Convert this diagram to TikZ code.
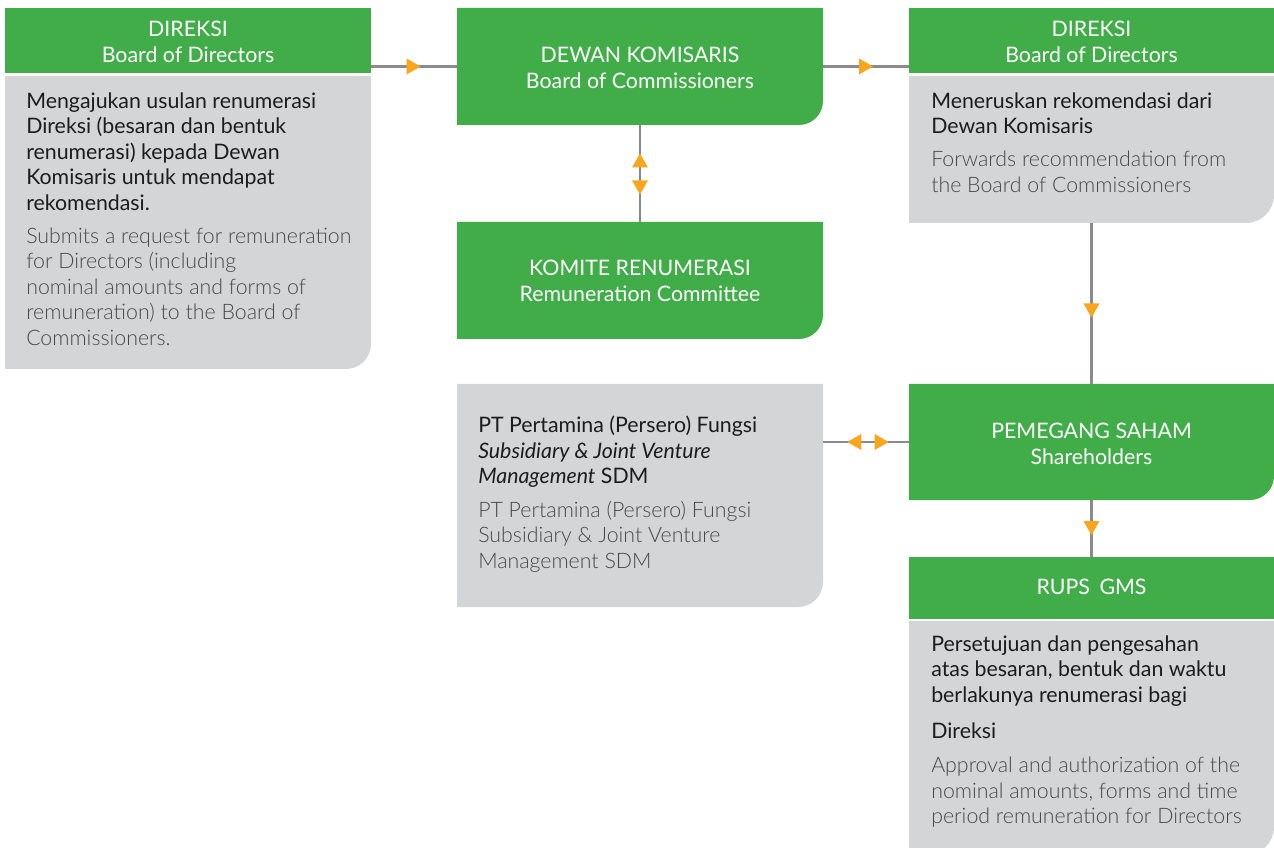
\documentclass[tikz,border=0pt]{standalone}
\usepackage{fontspec}
\setmainfont{Lato}
\newfontfamily\lightfont{Lato Light}
\usetikzlibrary{fit,decorations.markings}

\definecolor{boxgreen}{HTML}{41AD49}
\definecolor{boxgray}{HTML}{D4D5D7}
\definecolor{linegray}{HTML}{8B8B8E}
\definecolor{tiporange}{HTML}{F9A61C}
\definecolor{inkdark}{HTML}{1C1C1C}
\definecolor{inklight}{HTML}{48484A}

% card with only the lower right corner rounded
\newcommand\roundcard[3]{%
  \fill[#2] (#1.north west) -- (#1.north east) -- ([yshift=#3]#1.south east)
    arc[start angle=0,end angle=-90,radius=#3] -- (#1.south west) -- cycle;}
\newcommand\flatcard[2]{\fill[#2] (#1.north west) rectangle (#1.south east);}

% text nodes are placed by the baseline of their last line
\tikzset{
  frame/.style={inner sep=0pt, outer sep=0pt},
  conn/.style={draw=linegray, line width=2pt},
  fwdtip/.style={postaction={decorate,decoration={markings,
      mark=at position 0.5 with {\fill[tiporange] (#1,-6pt) -- ({#1+10.5pt},0pt) -- (#1,6pt) -- cycle;}}}},
  backtip/.style={postaction={decorate,decoration={markings,
      mark=at position 0.5 with {\fill[tiporange] (#1,-6pt) -- ({#1-10.5pt},0pt) -- (#1,6pt) -- cycle;}}}},
  headtxt/.style={text=white, font=\fontsize{16}{19.5}\selectfont, align=center, inner sep=0pt, anchor=base},
  bodytxt/.style={text=inkdark, font=\fontsize{16}{19.1}\selectfont, align=left, inner sep=0pt, anchor=base west},
  subtxt/.style={text=inklight, font=\lightfont\fontsize{16}{19.1}\selectfont, align=left, inner sep=0pt, anchor=base west},
}

\begin{document}
\begin{tikzpicture}[x=0.75pt,y=0.75pt]
\useasboundingbox (0,0) rectangle (1274,-848);

% box outlines
\node[frame, fit={(5,-8) (371,-73)}] (lhead) {};
\node[frame, fit={(5,-76) (371,-369)}] (lbody) {};
\node[frame, fit={(457,-8) (823,-125)}] (dk) {};
\node[frame, fit={(457,-222) (823,-339)}] (km) {};
\node[frame, fit={(457,-384) (823,-607)}] (pertamina) {};
\node[frame, fit={(909,-8) (1274,-73)}] (rhead) {};
\node[frame, fit={(909,-76) (1274,-223)}] (rbody) {};
\node[frame, fit={(909,-384) (1274,-500)}] (pm) {};
\node[frame, fit={(909,-557) (1274,-619)}] (rups) {};
\node[frame, fit={(909,-621) (1274,-855)}] (rupsbody) {};

% fills
\flatcard{lhead}{boxgreen}
\roundcard{lbody}{boxgray}{18.75pt}
\roundcard{dk}{boxgreen}{18pt}
\roundcard{km}{boxgreen}{18pt}
\roundcard{pertamina}{boxgray}{18.75pt}
\flatcard{rhead}{boxgreen}
\roundcard{rbody}{boxgray}{21pt}
\roundcard{pm}{boxgreen}{18pt}
\flatcard{rups}{boxgreen}
\roundcard{rupsbody}{boxgray}{21pt}

% connectors
\draw[conn, fwdtip=-5.5pt] (lhead.east |- dk.west) -- (dk.west);
\draw[conn, fwdtip=-5.25pt] (dk.east) -- (rhead.west |- dk.east);
\draw[conn, backtip=-4.5pt, fwdtip=5.25pt] (dk.south) -- (km.north);
\draw[conn, fwdtip=0pt] (rbody.south) -- (pm.north);
\draw[conn, backtip=-3.5pt, fwdtip=6.5pt] (pertamina.east |- pm.west) -- (pm.west);
\draw[conn, fwdtip=-5.6pt] (pm.south) -- (rups.north);

% texts
\node[headtxt] (lheadtxt) at (188,-63) {DIREKSI\\Board of Directors};
\node[bodytxt] (lbodyid) at (26,-210.3) {Mengajukan usulan renumerasi\\Direksi (besaran dan bentuk\\renumerasi) kepada Dewan\\Komisaris untuk mendapat\\rekomendasi.};
\node[subtxt] (lbodyen) at (26,-345.3) {Submits a request for remuneration\\for Directors (including\\nominal amounts and forms of\\remuneration) to the Board of\\Commissioners.};

\node[headtxt] (dktxt) at (640,-88.3) {DEWAN KOMISARIS\\Board of Commissioners};
\node[headtxt] (kmtxt) at (640,-302) {KOMITE RENUMERASI\\Remuneration Committee};

\node[bodytxt] (ptid) at (478,-483.5) {PT Pertamina (Persero) Fungsi\\\textit{Subsidiary \& Joint Venture}\\\textit{Management} SDM};
\node[subtxt] (pten) at (478,-568) {PT Pertamina (Persero) Fungsi\\Subsidiary \& Joint Venture\\Management SDM};

\node[headtxt] (rheadtxt) at (1091.5,-63) {DIREKSI\\Board of Directors};
\node[bodytxt] (rbodyid) at (931,-133.8) {Meneruskan rekomendasi dari\\Dewan Komisaris};
\node[subtxt] (rbodyen) at (931,-192.2) {Forwards recommendation from\\the Board of Commissioners};

\node[headtxt] (pmtxt) at (1091.5,-464) {PEMEGANG SAHAM\\Shareholders};
\node[headtxt] (rupstxt) at (1091.5,-594) {RUPS\hspace{0.45em}GMS};
\node[bodytxt] (rupsid) at (931,-702) {Persetujuan dan pengesahan\\atas besaran, bentuk dan waktu\\berlakunya renumerasi bagi};
\node[bodytxt] (rupsdir) at (931,-738.3) {Direksi};
\node[subtxt] (rupsen) at (931,-823.5) {Approval and authorization of the\\nominal amounts, forms and time\\period remuneration for Directors};
\end{tikzpicture}
\end{document}
